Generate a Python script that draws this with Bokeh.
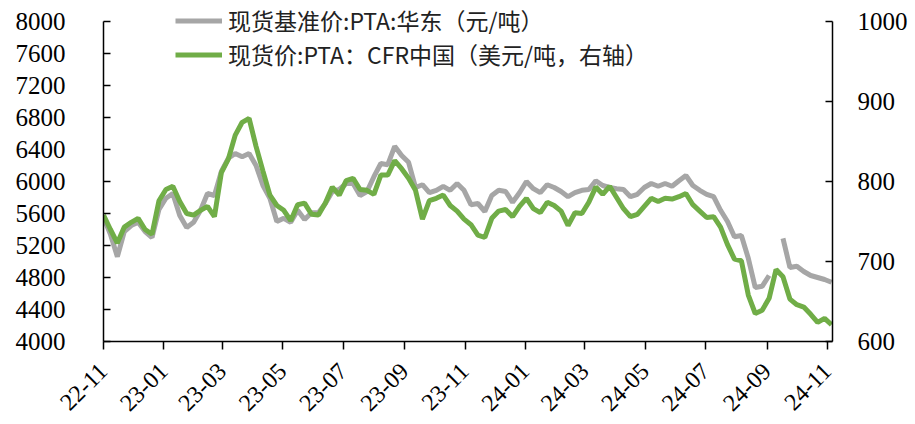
import math
import numpy as np
import pandas as pd
from bokeh.plotting import figure
from bokeh.models import (Range1d, LinearAxis, FixedTicker, DatetimeTickFormatter,
                          Legend, LegendItem, ColumnDataSource)
from bokeh.embed import file_html
from bokeh.resources import INLINE

# ---- data (weekly readings) ----
start_date = "2022-11-01"
n_points = 106
nan = float("nan")

# 现货基准价:PTA:华东（元/吨） - left axis
east_china_cny = [
    5550, 5340, 5060, 5375, 5450, 5490, 5375, 5300, 5650, 5790,
    5850, 5575, 5425, 5490, 5640, 5850, 5825, 6125, 6290, 6350,
    6310, 6350, 6200, 5950, 5790, 5500, 5540, 5490, 5640, 5525,
    5610, 5610, 5725, 5875, 5900, 5975, 5975, 5825, 5875, 6060,
    6225, 6210, 6440, 6325, 6240, 5925, 5960, 5860, 5890, 5940,
    5890, 5975, 5890, 5710, 5725, 5625, 5825, 5890, 5875, 5740,
    5860, 6000, 5910, 5860, 5960, 5925, 5875, 5810, 5860, 5890,
    5900, 6010, 5950, 5925, 5910, 5900, 5810, 5840, 5925, 5975,
    5940, 5975, 5940, 6010, 6075, 5950, 5890, 5840, 5810, 5640,
    5500, 5310, 5325, 5040, 4675, 4690, 4825, nan, 5290, 4925,
    4940, 4875, 4825, 4800, 4775, 4740,
]

# 现货价:PTA：CFR中国（美元/吨） - right axis
cfr_china_usd = [
    758, 740, 723, 743, 749, 754, 740, 734, 776, 790,
    794, 775, 760, 758, 764, 769, 756, 811, 828, 858,
    874, 879, 844, 813, 783, 770, 764, 751, 771, 773,
    759, 758, 773, 793, 783, 801, 804, 790, 789, 784,
    808, 808, 826, 816, 804, 789, 753, 776, 779, 783,
    770, 763, 753, 746, 733, 730, 754, 763, 765, 756,
    769, 779, 766, 761, 774, 770, 763, 745, 761, 760,
    774, 793, 784, 794, 780, 766, 756, 759, 769, 779,
    775, 779, 778, 781, 785, 771, 763, 755, 756, 743,
    721, 703, 701, 658, 635, 639, 654, 690, 681, 653,
    646, 643, 634, 624, 629, 621,
]

series_labels = ["现货基准价:PTA:华东（元/吨）", "现货价:PTA：CFR中国（美元/吨，右轴）"]
x_tick_dates = ["2022-11-01", "2023-01-01", "2023-03-01", "2023-05-01", "2023-07-01",
                "2023-09-01", "2023-11-01", "2024-01-01", "2024-03-01", "2024-05-01",
                "2024-07-01", "2024-09-01", "2024-11-01"]
left_ticks = [4000, 4400, 4800, 5200, 5600, 6000, 6400, 6800, 7200, 7600, 8000]
right_ticks = [600, 700, 800, 900, 1000]
x_start, x_end = "2022-11-01", "2024-11-06"

# ---- build ----
dates = pd.date_range(start_date, periods=n_points, freq="7D")
src = ColumnDataSource(dict(date=dates, grey=np.array(east_china_cny, dtype=float),
                            green=np.array(cfr_china_usd, dtype=float)))

GREY = "#A6A6A6"
GREEN = "#70AD47"
NUM_FONT = "Liberation Serif"

# head room above the top tick so the legend can sit there (axis lines stop at the top tick)
left_top = left_ticks[-1] + (left_ticks[-1] - left_ticks[0]) * 20 / 320
right_top = right_ticks[-1] + (right_ticks[-1] - right_ticks[0]) * 20 / 320

p = figure(width=915, height=424, x_axis_type="datetime",
           output_backend="svg", toolbar_location=None,
           x_range=Range1d(pd.Timestamp(x_start), pd.Timestamp(x_end)),
           y_range=Range1d(left_ticks[0], left_top),
           min_border_left=103, min_border_right=83, min_border_top=1, min_border_bottom=83)
p.extra_y_ranges = {"right": Range1d(right_ticks[0], right_top)}
p.xgrid.visible = False
p.ygrid.visible = False
p.outline_line_color = None
p.background_fill_color = "white"
p.border_fill_color = "white"

r_grey = p.line("date", "grey", source=src, line_color=GREY, line_width=5)
r_green = p.line("date", "green", source=src, line_color=GREEN, line_width=5,
                 y_range_name="right")

def style_axis(ax):
    ax.axis_line_color = "black"
    ax.axis_line_width = 1.5
    ax.major_tick_line_color = "black"
    ax.major_tick_line_width = 1.5
    ax.minor_tick_line_color = None
    ax.major_label_text_font = NUM_FONT
    ax.major_label_text_font_size = "25px"
    ax.major_label_text_color = "black"

ly = p.yaxis[0]
ly.ticker = FixedTicker(ticks=left_ticks)
ly.bounds = (left_ticks[0], left_ticks[-1])
style_axis(ly)
ly.major_tick_in = 7
ly.major_tick_out = 0
ly.major_label_standoff = 38

ry = LinearAxis(y_range_name="right", ticker=FixedTicker(ticks=right_ticks),
                bounds=(right_ticks[0], right_ticks[-1]))
style_axis(ry)
ry.major_tick_in = 7
ry.major_tick_out = 0
ry.major_label_standoff = 25
p.add_layout(ry, "right")

bx = p.xaxis[0]
bx.ticker = FixedTicker(ticks=[pd.Timestamp(d).value // 10**6 for d in x_tick_dates])
fmt = "%y-%m"
bx.formatter = DatetimeTickFormatter(years=fmt, months=fmt, days=fmt, hours=fmt,
                                     minutes=fmt, seconds=fmt, milliseconds=fmt)
style_axis(bx)
bx.major_label_text_font_size = "24px"
bx.major_tick_in = 0
bx.major_tick_out = 8
bx.major_label_orientation = math.pi / 4
bx.major_label_standoff = 18

legend = Legend(items=[LegendItem(label=series_labels[0], renderers=[r_grey]),
                       LegendItem(label=series_labels[1], renderers=[r_green])],
                location=(72, 270))
legend.border_line_color = None
legend.background_fill_alpha = 0
legend.label_text_font = "Noto Sans CJK SC"
legend.label_text_font_size = "23px"
legend.label_text_color = "#222222"
legend.glyph_width = 47
legend.glyph_height = 33
legend.label_height = 33
legend.label_standoff = 6
legend.spacing = 0
legend.padding = 0
legend.margin = 0
p.add_layout(legend)

open("out.html", "w").write(file_html(p, INLINE))
